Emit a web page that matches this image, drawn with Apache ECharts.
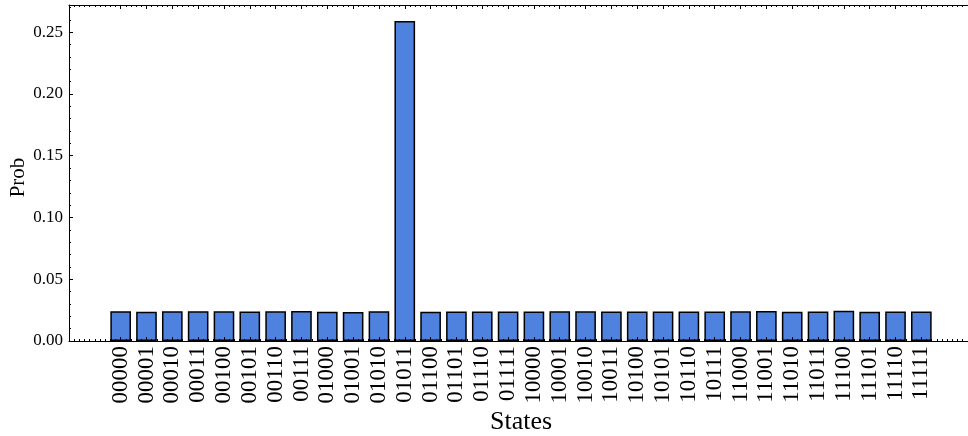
<!DOCTYPE html>
<html>
<head>
<meta charset="utf-8">
<script src="https://cdn.jsdelivr.net/npm/echarts@6/dist/echarts.min.js"></script>
<style>
  html, body { margin: 0; padding: 0; background: #fff; overflow: hidden; }
  #chart { width: 980px; height: 436px; }
</style>
</head>
<body>
<div id="chart"></div>
<script>
// Basis states of the 5-qubit register
const states = [
  '00000','00001','00010','00011','00100','00101','00110','00111',
  '01000','01001','01010','01011','01100','01101','01110','01111',
  '10000','10001','10010','10011','10100','10101','10110','10111',
  '11000','11001','11010','11011','11100','11101','11110','11111'
];

// Measured probability of each state
const probs = [
  0.0241, 0.0237, 0.0241, 0.0240, 0.0240, 0.0238, 0.0240, 0.0243,
  0.0236, 0.0235, 0.0241, 0.2590, 0.0237, 0.0239, 0.0239, 0.0238,
  0.0239, 0.0240, 0.0240, 0.0238, 0.0238, 0.0239, 0.0239, 0.0238,
  0.0240, 0.0242, 0.0237, 0.0238, 0.0244, 0.0237, 0.0239, 0.0238
];

// Y-axis major tick values and their labels
const yTicks = [0, 0.05, 0.10, 0.15, 0.20, 0.25];
const yTickLabels = ['0.00', '0.05', '0.10', '0.15', '0.20', '0.25'];

const xPositions = states.map((_, i) => i);
const X_MIN = -2, X_MAX = 33;
const Y_MIN = 0, Y_MAX = 0.272;

const FONT = 'Liberation Serif';
const INK = '#000';

function xMajor(position, withLabels) {
  return {
    type: 'value', position, min: X_MIN, max: X_MAX, z: 5,
    splitLine: { show: false },
    axisLine: { show: true, onZero: false, lineStyle: { color: INK, width: 1 } },
    axisTick: { show: true, inside: true, length: 4, customValues: xPositions,
                lineStyle: { color: INK, width: 1 } },
    axisLabel: withLabels ? {
      show: true, customValues: xPositions, rotate: 90, margin: 5,
      fontFamily: FONT, fontSize: 23, color: INK,
      formatter: v => states[Math.round(v)]
    } : { show: false }
  };
}

function xMinor(position) {
  return {
    type: 'value', position, min: X_MIN, max: X_MAX, interval: 0.2, z: 5,
    splitLine: { show: false },
    axisLine: { show: false, onZero: false },
    axisTick: { show: true, inside: true, length: 2, lineStyle: { color: INK, width: 1 } },
    axisLabel: { show: false }
  };
}

function yMajor(position, withLabels) {
  return {
    type: 'value', position, min: Y_MIN, max: Y_MAX, z: 5,
    splitLine: { show: false },
    axisLine: { show: true, onZero: false, lineStyle: { color: INK, width: 1 } },
    axisTick: { show: true, inside: true, length: 4, customValues: yTicks,
                lineStyle: { color: INK, width: 1 } },
    axisLabel: withLabels ? {
      show: true, customValues: yTicks, margin: 6,
      fontFamily: FONT, fontSize: 17, color: INK,
      formatter: v => yTickLabels[Math.round(v / 0.05)]
    } : { show: false }
  };
}

function yMinor(position) {
  return {
    type: 'value', position, min: Y_MIN, max: Y_MAX, interval: 0.01, z: 5,
    splitLine: { show: false },
    axisLine: { show: false, onZero: false },
    axisTick: { show: true, inside: true, length: 2, lineStyle: { color: INK, width: 1 } },
    axisLabel: { show: false }
  };
}

const bottomAxis = xMajor('bottom', true);
bottomAxis.name = 'States';
bottomAxis.nameLocation = 'middle';
bottomAxis.nameGap = 68;
bottomAxis.nameMoveOverlap = false;
bottomAxis.nameTextStyle = { fontFamily: FONT, fontSize: 26, color: INK };

const leftAxis = yMajor('left', true);
leftAxis.name = 'Prob';
leftAxis.nameLocation = 'middle';
leftAxis.nameGap = 40;
leftAxis.nameMoveOverlap = false;
leftAxis.nameTextStyle = { fontFamily: FONT, fontSize: 21, color: INK, padding: [0, 9, 0, 0] };

const chart = echarts.init(document.getElementById('chart'), null, { renderer: 'canvas' });
chart.setOption({
  animation: false,
  backgroundColor: '#fff',
  grid: { left: 69, top: 5, width: 904, height: 336, containLabel: false, outerBoundsMode: 'none' },
  xAxis: [bottomAxis, xMajor('top', false), xMinor('bottom'), xMinor('top')],
  yAxis: [leftAxis, yMajor('right', false), yMinor('left'), yMinor('right')],
  series: [{
    type: 'bar',
    xAxisIndex: 0,
    yAxisIndex: 0,
    barWidth: '80%',
    z: 2,
    itemStyle: { color: '#4f82de', borderColor: '#000', borderWidth: 1.5 },
    data: xPositions.map((x, i) => [x, probs[i]])
  }]
});
</script>
</body>
</html>
